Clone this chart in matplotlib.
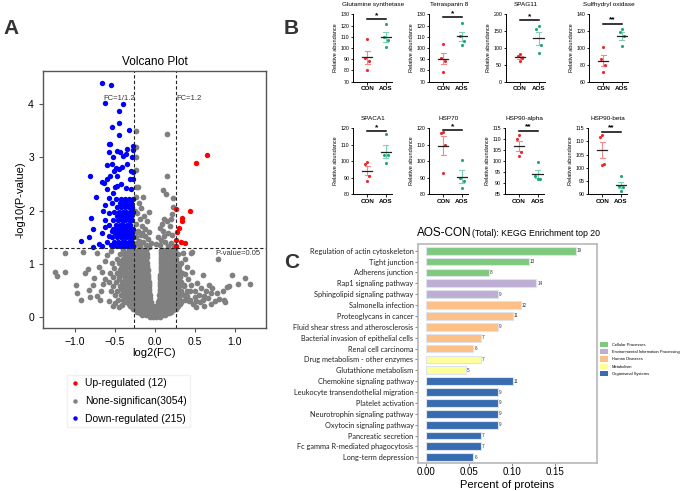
import matplotlib
matplotlib.use("Agg")
import matplotlib.pyplot as plt
import numpy as np
from matplotlib.lines import Line2D
from matplotlib.patches import Patch

plt.rcParams['font.family'] = ['Liberation Sans', 'DejaVu Sans']

# ---------------- data: volcano (A) ----------------
up_pts = [(0.258, 2.03), (0.508, 2.89), (0.65, 3.05), (0.44, 2.0), (0.34, 1.86), (0.333, 1.8),
          (0.30, 1.68), (0.28, 1.6), (0.27, 1.45), (0.325, 1.41), (0.38, 1.4), (0.258, 1.33)]

down_scatter = [(-0.667, 4.39), (-0.546, 4.36), (-0.625, 4.02), (-0.396, 4.0), (-0.45, 3.87),
                (-0.45, 3.65), (-0.54, 3.57), (-0.45, 3.42), (-0.32, 3.52), (-0.56, 3.26),
                (-0.577, 3.25), (-0.28, 3.21), (-0.28, 3.13), (-0.48, 3.12), (-0.573, 3.1),
                (-0.44, 3.1), (-0.35, 3.15), (-0.53, 3.0), (-0.40, 3.02), (-0.36, 3.06),
                (-0.29, 3.01), (-0.35, 2.87), (-0.60, 2.85), (-0.54, 2.88), (-0.49, 2.8),
                (-0.45, 2.78), (-0.41, 2.82), (-0.51, 2.75), (-0.30, 2.75), (-0.28, 2.73),
                (-0.81, 2.65), (-0.56, 2.65), (-0.48, 2.65), (-0.60, 2.6), (-0.31, 2.6),
                (-0.28, 2.6), (-0.66, 2.54), (-0.64, 2.52), (-0.48, 2.47), (-0.43, 2.5),
                (-0.36, 2.42), (-0.60, 2.4), (-0.30, 2.4), (-0.74, 2.25), (-0.57, 2.23),
                (-0.52, 2.33), (-0.80, 1.86), (-0.78, 1.66), (-0.93, 1.43), (-0.83, 1.5),
                (-0.77, 1.32), (-0.70, 1.38), (-0.625, 1.82), (-0.65, 2.0), (-0.58, 1.73),
                (-0.54, 1.61), (-0.60, 1.41), (-0.55, 1.35), (-0.66, 1.58), (-0.62, 2.1),
                (-0.58, 1.95), (-0.63, 1.7), (-0.57, 1.52), (-0.66, 1.33), (-0.50, 2.45)]
# dense block of down-regulated points: (y, x values)
down_rows = [(1.34, [-0.53, -0.48, -0.44, -0.39, -0.35, -0.31, -0.28]),
             (1.42, [-0.51, -0.46, -0.41, -0.37, -0.33, -0.29]),
             (1.50, [-0.54, -0.48, -0.43, -0.39, -0.35, -0.31, -0.28]),
             (1.58, [-0.50, -0.45, -0.41, -0.37, -0.33, -0.29]),
             (1.66, [-0.53, -0.47, -0.42, -0.38, -0.34, -0.30, -0.28]),
             (1.74, [-0.49, -0.44, -0.40, -0.35, -0.31]),
             (1.82, [-0.52, -0.46, -0.41, -0.37, -0.33, -0.29]),
             (1.90, [-0.48, -0.43, -0.38, -0.34, -0.30]),
             (1.98, [-0.51, -0.45, -0.40, -0.36, -0.31, -0.28]),
             (2.06, [-0.47, -0.42, -0.37, -0.33, -0.29]),
             (2.14, [-0.54, -0.44, -0.39, -0.35, -0.30]),
             (2.22, [-0.49, -0.42, -0.37, -0.32, -0.28])]

gray_rows = [(0.01, [-0.06, -0.02, 0.02, 0.06]),
             (0.05, [-0.16, -0.11, -0.07, -0.03, 0.01, 0.05, 0.09, 0.13]),
             (0.08, [-0.19, -0.14, -0.09, -0.05, -0.01, 0.03, 0.07, 0.11, 0.15, 0.18]),
             (0.10, [-0.22, -0.17, -0.12, -0.08, -0.04, 0.0, 0.04, 0.08, 0.12, 0.16, 0.20]),
             (0.13, [-0.24, -0.19, -0.14, -0.09, -0.04, 0.01, 0.06, 0.10, 0.15, 0.19, 0.23]),
             (0.16, [-0.27, -0.21, -0.16, -0.11, -0.06, -0.02, 0.02, 0.07, 0.12, 0.17, 0.22, 0.26]),
             (0.19, [-0.29, -0.24, -0.18, -0.13, -0.08, -0.03, 0.04, 0.09, 0.15, 0.20, 0.25, 0.28]),
             (0.22, [-0.31, -0.25, -0.19, -0.13, -0.08, -0.03, 0.02, 0.08, 0.13, 0.18, 0.23, 0.29]),
             (0.25, [-0.33, -0.27, -0.21, -0.16, -0.10, -0.05, 0.05, 0.11, 0.16, 0.21, 0.26, 0.31]),
             (0.28, [-0.36, -0.29, -0.23, -0.17, -0.11, -0.05, 0.04, 0.10, 0.15, 0.21, 0.27, 0.33]),
             (0.33, [-0.46, -0.40, -0.34, -0.29, -0.23, -0.18, -0.12, -0.07,
                     0.05, 0.10, 0.15, 0.20, 0.26, 0.32, 0.38, 0.44]),
             (0.37, [-0.37, -0.31, -0.26, -0.21, -0.15, -0.10, -0.06,
                     0.06, 0.12, 0.17, 0.23, 0.28]),
             (0.41, [-0.50, -0.43, -0.37, -0.31, -0.26, -0.20, -0.15, -0.09, -0.06,
                     0.05, 0.09, 0.14, 0.19, 0.25, 0.31, 0.37]),
             (0.46, [-0.40, -0.34, -0.28, -0.23, -0.18, -0.12, -0.07,
                     0.06, 0.11, 0.17, 0.22, 0.28]),
             (0.50, [-0.55, -0.47, -0.40, -0.34, -0.28, -0.22, -0.17, -0.11, -0.07,
                     0.06, 0.10, 0.16, 0.21, 0.27, 0.33, 0.40]),
             (0.54, [-0.43, -0.37, -0.31, -0.25, -0.19, -0.14, -0.08,
                     0.07, 0.13, 0.18, 0.23, 0.29]),
             (0.58, [-0.52, -0.44, -0.37, -0.31, -0.25, -0.19, -0.13, -0.08,
                     0.06, 0.10, 0.14, 0.19, 0.25, 0.30, 0.36]),
             (0.62, [-0.40, -0.34, -0.28, -0.22, -0.16, -0.11, -0.08,
                     0.07, 0.11, 0.17, 0.23, 0.28]),
             (0.67, [-0.58, -0.49, -0.41, -0.34, -0.28, -0.22, -0.16, -0.11, -0.08,
                     0.07, 0.10, 0.15, 0.21, 0.27, 0.33]),
             (0.71, [-0.45, -0.37, -0.31, -0.25, -0.19, -0.13, -0.09,
                     0.07, 0.12, 0.18, 0.24, 0.29]),
             (0.75, [-0.53, -0.45, -0.38, -0.31, -0.25, -0.19, -0.13, -0.09,
                     0.07, 0.11, 0.14, 0.20, 0.26, 0.31]),
             (0.79, [-0.42, -0.35, -0.28, -0.22, -0.16, -0.11, -0.09,
                     0.07, 0.12, 0.17, 0.23, 0.28]),
             (0.84, [-0.56, -0.47, -0.40, -0.34, -0.27, -0.21, -0.15, -0.10,
                     0.08, 0.12, 0.16, 0.22, 0.28, 0.34]),
             (0.88, [-0.44, -0.37, -0.30, -0.24, -0.18, -0.13, -0.09,
                     0.08, 0.13, 0.19, 0.24, 0.30]),
             (0.92, [-0.51, -0.43, -0.36, -0.30, -0.24, -0.18, -0.13, -0.10,
                     0.08, 0.11, 0.15, 0.21, 0.27]),
             (0.96, [-0.40, -0.33, -0.27, -0.21, -0.15, -0.10,
                     0.08, 0.12, 0.18, 0.24, 0.30]),
             (1.01, [-0.54, -0.45, -0.38, -0.32, -0.26, -0.20, -0.14, -0.10,
                     0.08, 0.12, 0.16, 0.22, 0.28, 0.33]),
             (1.05, [-0.42, -0.35, -0.29, -0.23, -0.17, -0.11,
                     0.08, 0.13, 0.19, 0.25]),
             (1.09, [-0.48, -0.40, -0.34, -0.28, -0.22, -0.16, -0.11,
                     0.08, 0.11, 0.15, 0.21, 0.26]),
             (1.13, [-0.37, -0.31, -0.25, -0.19, -0.13, -0.10,
                     0.08, 0.12, 0.18, 0.24]),
             (1.18, [-0.44, -0.37, -0.31, -0.25, -0.19, -0.14, -0.10,
                     0.08, 0.11, 0.16, 0.22, 0.29]),
             (1.22, [-0.34, -0.28, -0.22, -0.16, -0.11,
                     0.08, 0.12, 0.18, 0.24]),
             (1.26, [-0.40, -0.33, -0.27, -0.21, -0.15, -0.11,
                     0.08, 0.10, 0.14, 0.20, 0.25])]

gray_scatter = [(-1.25, 0.85), (-1.22, 0.78), (-1.12, 0.85), (-1.12, 1.2), (-0.99, 0.6),
                (-0.97, 0.45), (-0.825, 0.52), (-0.81, 0.38), (-0.76, 0.73), (-0.73, 1.2),
                (-0.90, 1.23), (-0.69, 0.32), (-0.67, 0.5), (-0.62, 0.72), (-0.58, 0.3),
                (-0.50, 0.26), (-0.88, 0.83), (-0.84, 0.9), (-0.70, 0.95), (-0.65, 0.62),
                (-0.63, 1.05), (-0.60, 1.16), (-0.78, 0.6), (-0.72, 0.4), (-0.92, 0.33),
                (-0.55, 1.25), (-0.66, 0.85), (-0.53, 0.22), (-0.45, 0.2), (-0.41, 0.24),
                (0.48, 0.25), (0.52, 0.3), (0.56, 0.28), (0.60, 0.33), (0.50, 0.38),
                (0.55, 0.42), (0.62, 0.4), (0.66, 0.36), (0.70, 0.45), (0.64, 0.5),
                (0.72, 0.55), (0.68, 0.6), (0.58, 0.55), (0.50, 0.5), (0.45, 0.6),
                (0.42, 0.72), (0.46, 0.85), (0.40, 0.95), (0.38, 1.1), (0.45, 1.2),
                (0.44, 0.5), (0.75, 0.3), (0.80, 0.35), (0.85, 0.5), (0.88, 0.28),
                (0.90, 0.57), (0.79, 1.09), (0.97, 0.79), (1.13, 0.74), (1.19, 0.62),
                (1.04, 0.63), (0.93, 0.58), (0.86, 0.33), (0.46, 1.23), (0.60, 0.8),
                (0.53, 0.65), (0.40, 0.4), (0.36, 0.6), (0.38, 0.82), (0.35, 1.2),
                (0.52, 0.2), (0.43, 0.3), (0.78, 0.45), (0.70, 0.25), (0.62, 0.22),
                # above threshold, left side
                (-0.24, 3.5), (-0.24, 3.19), (-0.24, 3.0), (-0.24, 2.76), (-0.24, 2.44),
                (-0.21, 2.44), (-0.24, 2.26), (-0.20, 2.15), (-0.17, 2.05), (-0.22, 1.95),
                (-0.14, 1.9), (-0.19, 1.85), (-0.10, 1.8), (-0.24, 1.75), (-0.16, 1.72),
                (-0.12, 1.66), (-0.21, 1.62), (-0.07, 1.6), (-0.18, 1.55), (-0.13, 1.52),
                (-0.24, 1.5), (-0.09, 1.47), (-0.20, 1.43), (-0.15, 1.41), (-0.05, 1.4),
                (-0.25, 1.36), (-0.11, 1.35), (-0.19, 1.33), (-0.07, 1.32), (-0.23, 1.6),
                (-0.25, 2.0), (-0.15, 2.25), (-0.08, 1.98), (-0.22, 1.4), (-0.16, 1.58),
                # above threshold, right side
                (0.15, 3.43), (0.15, 2.66), (0.10, 2.38), (0.14, 2.32), (0.23, 2.24),
                (0.23, 2.07), (0.21, 1.94), (0.15, 1.8), (0.12, 1.85), (0.19, 1.72),
                (0.06, 1.68), (0.10, 1.62), (0.17, 1.58), (0.22, 1.55), (0.04, 1.5),
                (0.08, 1.45), (0.13, 1.42), (0.20, 1.4), (0.06, 1.35), (0.16, 1.33),
                (0.24, 1.34), (0.02, 1.38), (0.11, 1.52), (0.09, 1.75), (0.20, 1.85)]

# ---------------- data: dot plots (B) ----------------
b_titles = ['Glutamine synthetase', 'Tetraspanin 8', 'SPAG11', 'Sulfhydryl oxidase',
            'SPACA1', 'HSP70', 'HSP90-alpha', 'HSP90-beta']
b_con = [[108, 91, 88, 80], [104, 91, 88, 79], [83, 75, 70, 62], [101, 87, 80, 72],
         [99.5, 98, 91, 88], [117.5, 117, 110, 93], [112, 110, 104, 102.5], [112.5, 111.5, 101.5, 101]]
b_aos = [[121, 110, 107, 101], [122, 111, 106, 103], [165, 155, 110, 85], [123, 119, 114, 102],
         [116.5, 104, 104, 99], [101, 90, 88, 83.5], [99.5, 93, 92, 92], [97, 93, 92.5, 91]]
b_ylim = [(70, 130), (70, 130), (0, 200), (60, 140), (80, 120), (80, 120), (85, 115), (90, 115)]
b_ystep = [10, 10, 50, 20, 10, 10, 5, 5]
b_sig = ['*', '*', '*', '**', '*', '*', '**', '**']
b_sig_y = [125.6, 127.3, 183, 129, 118.5, 119, 113.9, 113.7]
groups = ['CON', 'AOS']

# ---------------- data: KEGG (C) ----------------
c_terms = ['Regulation of actin cytoskeleton', 'Tight junction', 'Adherens junction',
           'Rap1 signaling pathway', 'Sphingolipid signaling pathway', 'Salmonella infection',
           'Proteoglycans in cancer', 'Fluid shear stress and atherosclerosis',
           'Bacterial invasion of epithelial cells', 'Renal cell carcinoma',
           'Drug metabolism - other enzymes', 'Glutathione metabolism',
           'Chemokine signaling pathway', 'Leukocyte transendothelial migration',
           'Platelet activation', 'Neurotrophin signaling pathway', 'Oxytocin signaling pathway',
           'Pancreatic secretion', 'Fc gamma R-mediated phagocytosis', 'Long-term depression']
c_counts = [19, 13, 8, 14, 9, 12, 11, 9, 7, 6, 7, 5, 11, 9, 9, 9, 9, 7, 7, 6]
c_pct = [0.174, 0.119, 0.073, 0.128, 0.083, 0.110, 0.101, 0.083, 0.064, 0.055,
         0.064, 0.046, 0.101, 0.083, 0.083, 0.083, 0.083, 0.064, 0.064, 0.055]
c_class = [0, 0, 0, 1, 1, 2, 2, 2, 2, 2, 3, 3, 4, 4, 4, 4, 4, 4, 4, 4]
c_class_names = ['Cellular Processes', 'Environmental Information Processing',
                 'Human Diseases', 'Metabolism', 'Organismal Systems']
c_colors = ['#7fc97f', '#beaed4', '#fdc086', '#ffff99', '#386cb0']

W, H = 685, 491
fig = plt.figure(figsize=(6.85, 4.91), dpi=100)


def px_axes(l, t, r, b):
    return fig.add_axes([l / W, 1 - b / H, (r - l) / W, (b - t) / H])


# ================= A: volcano =================
ax = px_axes(43, 71, 266, 328)
gx = [x for y, xs in gray_rows for x in xs] + [p[0] for p in gray_scatter]
gy = [y for y, xs in gray_rows for x in xs] + [p[1] for p in gray_scatter]
dx = [x for y, xs in down_rows for x in xs] + [p[0] for p in down_scatter]
dy = [y for y, xs in down_rows for x in xs] + [p[1] for p in down_scatter]
ax.scatter(gx, gy, s=17, color='#808080', linewidths=0)
ax.scatter(dx, dy, s=15, color='#0000ff', linewidths=0)
ax.scatter([p[0] for p in up_pts], [p[1] for p in up_pts], s=15, color='#ff0000', linewidths=0)
fc = np.log2(1.2)
ax.axvline(-fc, color='#222222', ls=(0, (3, 2)), lw=0.8)
ax.axvline(fc, color='#222222', ls=(0, (3, 2)), lw=0.8)
ax.axhline(-np.log10(0.05), color='#222222', ls=(0, (3, 2)), lw=0.8)
ax.text(-fc + 0.02, 4.1, 'FC=1/1.2', ha='right', va='center', fontsize=5.5, color='#333333')
ax.text(fc, 4.1, 'FC=1.2', ha='left', va='center', fontsize=5.5, color='#333333')
ax.text(0.76, 1.2, 'P-value=0.05', ha='left', va='center', fontsize=5.5, color='#333333')
ax.set_xlim(-1.4, 1.39)
ax.set_ylim(-0.2, 4.62)
ax.set_xticks([-1.0, -0.5, 0.0, 0.5, 1.0])
ax.set_yticks([0, 1, 2, 3, 4])
ax.tick_params(labelsize=7.5, length=3, color='#555555')
for s in ax.spines.values():
    s.set_color('#555555')
    s.set_linewidth(1.0)
ax.set_title('Volcano Plot', fontsize=8.5, pad=4)
ax.set_xlabel('log2(FC)', fontsize=8, labelpad=1)
ax.set_ylabel('-log10(P-value)', fontsize=8, labelpad=2)
handles = [Line2D([], [], ls='', marker='o', ms=2.2, color=c) for c in ('#ff0000', '#808080', '#0000ff')]
fig.legend(handles, ['Up-regulated (12)', 'None-significan(3054)', 'Down-regulated (215)'],
           loc='upper left', bbox_to_anchor=(62 / W, 1 - 370 / H), fontsize=7.5,
           handlelength=0.8, handletextpad=0.6, labelspacing=0.75, frameon=True,
           edgecolor='#eeeeee', fancybox=False, borderpad=0.3)

# ================= B: dot plots =================
b_lefts = [353.3, 429.3, 506, 589.3, 353.3, 429.3, 505, 588.3]
b_tops = [14.3] * 4 + [128.3] * 4
b_bots = [81.7] * 4 + [194] * 4
offs = [0.0, -0.12, 0.12, 0.0]
for i in range(8):
    a = px_axes(b_lefts[i], b_tops[i], b_lefts[i] + 39, b_bots[i])
    for g, vals, pc, ec in ((0, b_con[i], '#f0282d', '#f48a8e'), (1, b_aos[i], '#1ea67c', '#7fd0b4')):
        v = np.array(vals, dtype=float)
        m = v.mean()
        sem = v.std(ddof=1) / np.sqrt(len(v))
        a.plot([g, g], [m - sem, m + sem], color=ec, lw=0.8)
        a.plot([g - 0.14, g + 0.14], [m + sem, m + sem], color=ec, lw=0.8)
        a.plot([g - 0.14, g + 0.14], [m - sem, m - sem], color=ec, lw=0.8)
        a.scatter([g + o for o in offs], v, s=5, color=pc, linewidths=0, zorder=3)
        a.plot([g - 0.28, g + 0.28], [m, m], color='#222222', lw=0.9, zorder=4)
    a.plot([0, 1], [b_sig_y[i], b_sig_y[i]], color='black', lw=1.1, clip_on=False)
    a.text(0.5, b_sig_y[i], b_sig[i], ha='center', va='bottom', fontsize=6, fontweight='bold')
    lo, hi = b_ylim[i]
    a.set_ylim(lo, hi)
    a.set_yticks(np.arange(lo, hi + 0.1, b_ystep[i]))
    a.set_xlim(-0.75, 1.35)
    a.set_xticks([0, 1])
    a.set_xticklabels(groups, fontsize=4.5, fontweight='bold')
    a.tick_params(axis='y', labelsize=3.8, length=1.8, width=0.6, pad=1)
    a.tick_params(axis='x', length=1.8, width=0.6, pad=1.5)
    for s in ('top', 'right'):
        a.spines[s].set_visible(False)
    for s in ('left', 'bottom'):
        a.spines[s].set_linewidth(0.7)
    a.set_ylabel('Relative abundance', fontsize=4, labelpad=1.5)
    a.set_title(b_titles[i], fontsize=4.6, pad=6)

# ================= C: KEGG bars =================
ac = px_axes(417.7, 244.3, 596.7, 462.7)
pos = np.arange(len(c_terms))
ac.barh(pos, c_pct, height=0.72, color=[c_colors[k] for k in c_class],
        edgecolor='#dde4ee', linewidth=0.8)
for p, v, n in zip(pos, c_pct, c_counts):
    ac.text(v + 0.0012, p, str(n), va='center', ha='left', fontsize=3.3, color='#333333')
ac.set_ylim(19.5, -0.59)
ac.set_xlim(-0.0096, 0.198)
ac.set_yticks(pos)
ac.set_yticklabels(c_terms, fontsize=5.3, family=['Lato', 'DejaVu Sans'], color='#222222')
ac.set_xticks([0.0, 0.05, 0.10, 0.15])
ac.set_xticklabels(['0.00', '0.05', '0.10', '0.15'])
ac.tick_params(axis='x', labelsize=7, length=2, color='#888888', pad=1)
ac.tick_params(axis='y', length=2, color='#888888', pad=1)
for s in ac.spines.values():
    s.set_color('#b8b8b8')
    s.set_linewidth(1.2)
ac.set_xlabel('Percent of proteins', fontsize=8, labelpad=2)
fig.text(472 / W, 1 - 236 / H, 'AOS-CON', ha='right', va='baseline', fontsize=8.5)
fig.text(472 / W, 1 - 236 / H, '(Total): KEGG Enrichment top 20', ha='left', va='baseline', fontsize=6.3)
leg_handles = [Patch(facecolor=c, edgecolor='none') for c in c_colors]
fig.legend(leg_handles, c_class_names, loc='upper left', bbox_to_anchor=(596 / W, 1 - 338 / H),
           fontsize=2.9, frameon=False, handlelength=2.2, handleheight=1.6, labelspacing=0.55,
           handletextpad=0.8)

# panel letters
for lab, x, y in (('A', 3, 29), ('B', 284, 29), ('C', 284, 262)):
    fig.text(x / W, 1 - y / H, lab, fontsize=15, fontweight='bold', color='#333333', va='center')

fig.savefig('out.png', dpi=100)
